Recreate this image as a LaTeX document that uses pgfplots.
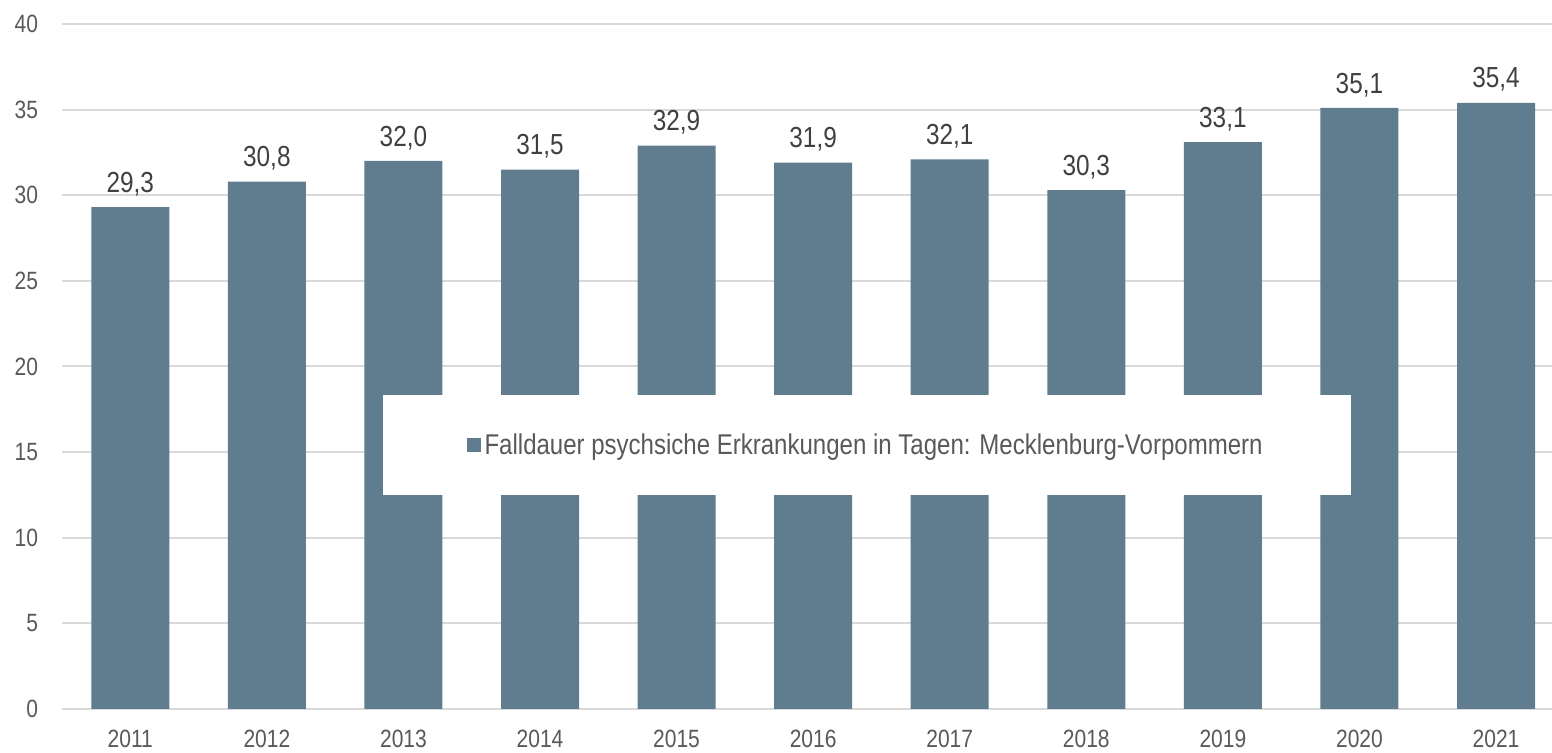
\documentclass[border=0pt]{standalone}
\usepackage{pgfplots}
\pgfplotsset{compat=1.18}
\usepackage{fontspec}
\setmainfont{Liberation Sans}[FakeStretch=0.84]
\definecolor{barc}{HTML}{607D8F}
\definecolor{gridc}{HTML}{D9D9D9}
\definecolor{tickc}{HTML}{595959}
\definecolor{labc}{HTML}{404040}
\begin{document}
\begin{tikzpicture}
\begin{axis}[
  scale only axis,
  width=745pt, height=342.5pt,
  xmin=-0.5, xmax=10.41,
  ymin=0, ymax=40,
  ytick={0,5,...,40},
  xtick={0,...,10},
  xticklabels={2011,2012,2013,2014,2015,2016,2017,2018,2019,2020,2021},
  ymajorgrids,
  grid style={gridc, line width=1pt},
  axis x line*=bottom,
  axis y line*=left,
  y axis line style={draw=none},
  x axis line style={gridc, line width=1pt, -},
  major tick length=0pt,
  tick style={draw=none},
  ticklabel style={font=\fontsize{12.5}{14}\selectfont, text=tickc},
  yticklabel style={xshift=-8.5pt},
  xticklabel style={yshift=-7pt},
  /pgf/number format/assume math mode=true,
  ybar, bar width=39pt,
  nodes near coords,
  nodes near coords style={font=\fontsize{14.5}{17}\selectfont, text=labc, yshift=2pt, /pgf/number format/.cd, use comma, fixed, fixed zerofill, precision=1, assume math mode=true},
  legend style={at={(0.54,0.385)}, anchor=center, draw=none, fill=white,
    inner xsep=42pt, inner ysep=17pt, font=\fontsize{14.3}{16}\selectfont, text=tickc},
  legend image code/.code={\fill[barc] (0pt,-3.5pt) rectangle (7pt,3.5pt);},
  clip=false,
]
\addplot[fill=barc, draw=none] coordinates {
(0,29.3) (1,30.8) (2,32.0) (3,31.5) (4,32.9) (5,31.9) (6,32.1) (7,30.3) (8,33.1) (9,35.1) (10,35.4)};
\addlegendentry{Falldauer psychsiche Erkrankungen in Tagen: Mecklenburg-Vorpommern}
\end{axis}
\pgfresetboundingbox
\path[use as bounding box] ([xshift=-31pt,yshift=-22pt]current axis.south west) rectangle ([yshift=12pt]current axis.north east);
\end{tikzpicture}
\end{document}
